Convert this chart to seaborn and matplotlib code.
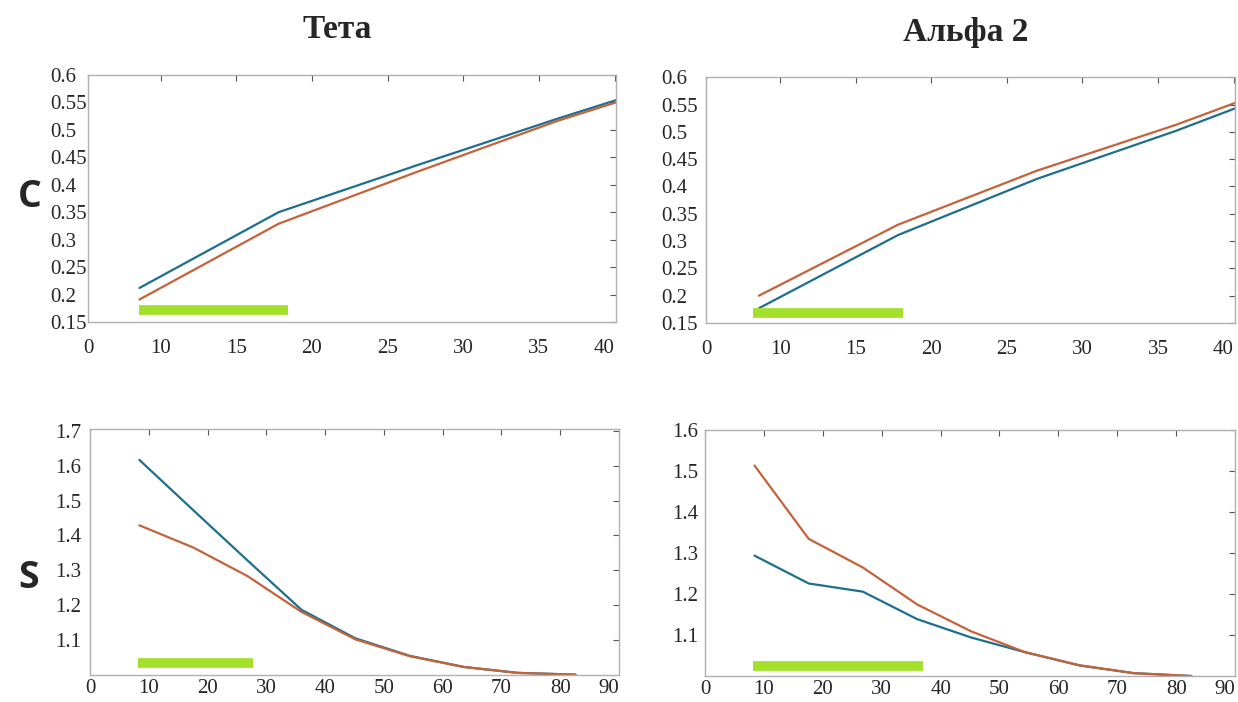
import numpy as np
import pandas as pd
import seaborn as sns
import matplotlib as mpl
import matplotlib.pyplot as plt

sns.set_style("white")
mpl.rc('font', family=['Liberation Serif', 'DejaVu Serif'], size=15)

BLUE = "#1d6e8f"
ORANGE = "#c5623a"
GREEN = "#a2e02a"

# Top row (C), x in the axis' own units
x_top = [8.6, 17.8, 27.0, 36.2, 40.1]
teta_c_blue = [0.212, 0.350, 0.436, 0.520, 0.554]
teta_c_orange = [0.191, 0.329, 0.424, 0.516, 0.550]
alfa_c_blue = [0.177, 0.311, 0.414, 0.502, 0.543]
alfa_c_orange = [0.200, 0.330, 0.429, 0.513, 0.553]

# Bottom row (S)
x_bot = [8.4, 17.6, 26.8, 36.0, 45.2, 54.4, 63.6, 72.8, 82.6]
teta_s_blue = [1.617, 1.472, 1.328, 1.186, 1.104, 1.054, 1.022, 1.005, 1.000]
teta_s_orange = [1.429, 1.365, 1.283, 1.180, 1.101, 1.053, 1.022, 1.005, 1.000]
alfa_s_blue = [1.294, 1.226, 1.206, 1.139, 1.094, 1.058, 1.026, 1.007, 1.000]
alfa_s_orange = [1.514, 1.335, 1.265, 1.175, 1.109, 1.058, 1.026, 1.007, 1.000]

# green bars: (x start, x end, y)
bar_teta_c = (8.55, 18.4, 0.172)
bar_alfa_c = (8.2, 18.1, 0.169)
bar_teta_s = (8.1, 27.8, 1.032)
bar_alfa_s = (8.1, 37.0, 1.024)

top_xticks = [10, 15, 20, 25, 30, 35, 40]
top_yticks = [0.15, 0.2, 0.25, 0.3, 0.35, 0.4, 0.45, 0.5, 0.55, 0.6]
top_ylabels = ['0.15', '0.2', '0.25', '0.3', '0.35', '0.4', '0.45', '0.5', '0.55', '0.6']
bot_xticks = [0, 10, 20, 30, 40, 50, 60, 70, 80, 90]


def makeDf(x, blue, orange):
    return pd.DataFrame({'x': list(x) * 2, 'y': list(blue) + list(orange),
                         'series': ['a'] * len(x) + ['b'] * len(x)})


def drawPanel(ax, df, bar, xlim, ylim, pad, xpad):
    sns.lineplot(data=df, x='x', y='y', hue='series', palette={'a': BLUE, 'b': ORANGE},
                 ax=ax, legend=False, linewidth=1.6)
    ax.plot([bar[0], bar[1]], [bar[2], bar[2]], color=GREEN, lw=7, solid_capstyle='butt')
    ax.set_xlim(xlim)
    ax.set_ylim(ylim)
    ax.set_xlabel('')
    ax.set_ylabel('')
    for s in ax.spines.values():
        s.set_color('#b0b0b0')
        s.set_linewidth(1.0)
    ax.tick_params(direction='in', top=True, right=True, length=4, color='#555555', width=0.8)
    ax.tick_params(axis='x', pad=xpad)
    ax.tick_params(axis='y', pad=pad, left=False)
    for lab in ax.get_yticklabels():
        lab.set_horizontalalignment('left')
    # last x label sits flush with the right edge
    ax.get_xticklabels()[-1].set_horizontalalignment('right')


fig = plt.figure(figsize=(12.38, 7.02), dpi=100)
axTL = fig.add_axes([0.0711, 0.5413, 0.4265, 0.352])
axTR = fig.add_axes([0.5703, 0.5399, 0.4273, 0.350])
axBL = fig.add_axes([0.0727, 0.0385, 0.4273, 0.350])
axBR = fig.add_axes([0.5695, 0.0370, 0.4281, 0.350])

for ax, blue, orange, bar, x0, pad in [(axTL, teta_c_blue, teta_c_orange, bar_teta_c, 5.2, 27),
                                       (axTR, alfa_c_blue, alfa_c_orange, bar_alfa_c, 5.1, 32)]:
    ax.set_xticks([x0] + top_xticks, ['0'] + [str(t) for t in top_xticks])
    ax.set_yticks(top_yticks, top_ylabels)
    drawPanel(ax, makeDf(x_top, blue, orange), bar, (x0, 40.1), (0.15, 0.6), pad, 12)

axBL.set_xticks(bot_xticks, [str(t) for t in bot_xticks])
axBL.set_yticks([1.1, 1.2, 1.3, 1.4, 1.5, 1.6, 1.7], ['1.1', '1.2', '1.3', '1.4', '1.5', '1.6', '1.7'])
drawPanel(axBL, makeDf(x_bot, teta_s_blue, teta_s_orange), bar_teta_s, (0, 90), (0.999, 1.705), 25, 3)

axBR.set_xticks(bot_xticks, [str(t) for t in bot_xticks])
axBR.set_yticks([1.1, 1.2, 1.3, 1.4, 1.5, 1.6], ['1.1', '1.2', '1.3', '1.4', '1.5', '1.6'])
drawPanel(axBR, makeDf(x_bot, alfa_s_blue, alfa_s_orange), bar_alfa_s, (0, 90), (1.0, 1.6), 24, 3)

fig.text(337 / 1238, 1 - 30 / 702, 'Тета', ha='center', va='center', fontsize=24, fontweight='bold')
fig.text(966 / 1238, 1 - 33 / 702, 'Альфа 2', ha='center', va='center', fontsize=24, fontweight='bold')
fig.text(30 / 1238, 1 - 197 / 702, 'C', ha='center', va='center', fontsize=27, fontweight='bold',
         family=['Open Sans', 'DejaVu Sans'])
fig.text(29 / 1238, 1 - 578 / 702, 'S', ha='center', va='center', fontsize=27, fontweight='bold',
         family=['Open Sans', 'DejaVu Sans'])

plt.savefig('out.png', dpi=100)
plt.close()
